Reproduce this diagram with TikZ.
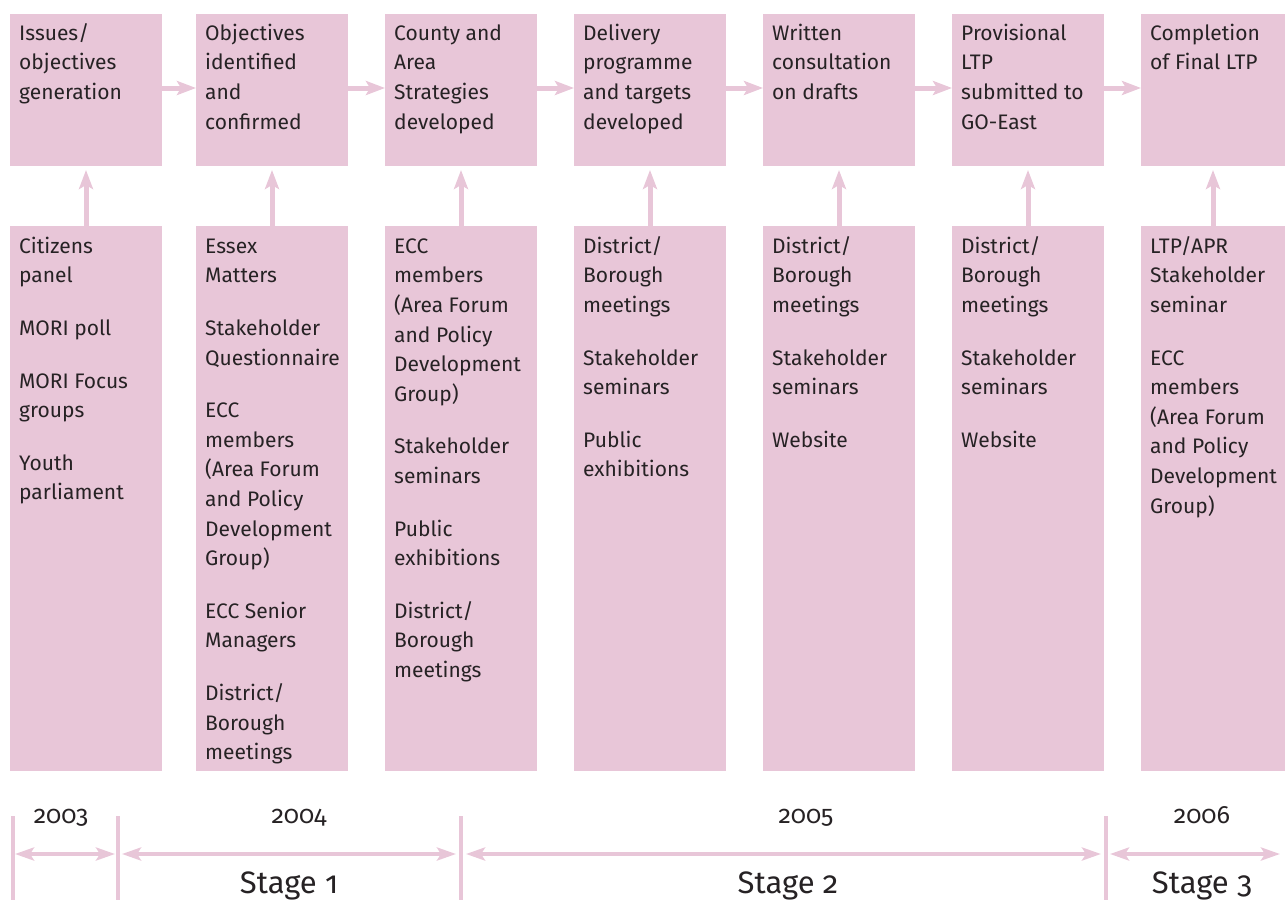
\documentclass[tikz,border=0pt]{standalone}
\usepackage{fontspec}
\setmainfont{Fira Sans}[Numbers=OldStyle]
\usetikzlibrary{arrows.meta}
\definecolor{pinkbox}{RGB}{232,198,216}
\definecolor{txt}{RGB}{38,34,36}
\newcommand{\fl}{\rule{0pt}{17pt}}
\begin{document}
\begin{tikzpicture}[x=1pt,y=-1pt,
  box/.style={fill=pinkbox, draw=none, inner sep=0pt, outer sep=0pt, anchor=north west},
  topbox/.style={box, minimum width=152pt, minimum height=152pt},
  botbox/.style={box, minimum width=152pt, minimum height=545pt},
  lbl/.style={anchor=north west, align=left, inner sep=0pt, text=txt, font=\fontsize{21}{29.6}\selectfont},
  flow/.style={draw=pinkbox, line width=5pt, -{Stealth[length=19pt,width=14pt,inset=4pt]}},
  span/.style={draw=pinkbox, line width=4pt, {Stealth[length=19pt,width=13pt,inset=4pt]}-{Stealth[length=19pt,width=13pt,inset=4pt]}},
  tick/.style={draw=pinkbox, line width=4pt},
  year/.style={text=txt, inner sep=0pt, font=\fontsize{25}{28}\selectfont, anchor=base},
  stage/.style={text=txt, inner sep=0pt, font=\fontsize{31}{36}\selectfont, anchor=base}]
\useasboundingbox (0,0) rectangle (1285,900);

% top boxes
\node[topbox] (t1) at (10,14) {};
\node[topbox] (t2) at (196,14) {};
\node[topbox] (t3) at (385,14) {};
\node[topbox] (t4) at (574,14) {};
\node[topbox] (t5) at (763,14) {};
\node[topbox] (t6) at (952,14) {};
\node[topbox, minimum width=144pt] (t7) at (1141,14) {};

% bottom boxes
\node[botbox] (b1) at (10,226) {};
\node[botbox] (b2) at (196,226) {};
\node[botbox] (b3) at (385,226) {};
\node[botbox] (b4) at (574,226) {};
\node[botbox] (b5) at (763,226) {};
\node[botbox] (b6) at (952,226) {};
\node[botbox, minimum width=144pt] (b7) at (1141,226) {};

% top texts
\node[lbl] (tt1) at (19,23) {\fl Issues/\\objectives\\generation};
\node[lbl] (tt2) at (205,23) {\fl Objectives\\identified\\and\\confirmed};
\node[lbl] (tt3) at (394,23) {\fl County and\\Area\\Strategies\\developed};
\node[lbl] (tt4) at (583,23) {\fl Delivery\\programme\\and targets\\developed};
\node[lbl] (tt5) at (772,23) {\fl Written\\consultation\\on drafts};
\node[lbl] (tt6) at (961,23) {\fl Provisional\\LTP\\submitted to\\GO-East};
\node[lbl] (tt7) at (1150,23) {\fl Completion\\of Final LTP};

% bottom texts
\node[lbl] (bt1) at (19,236) {\fl Citizens\\panel\\[23pt]MORI poll\\[23pt]MORI Focus\\groups\\[23pt]Youth\\parliament};
\node[lbl] (bt2) at (205,236) {\fl Essex\\Matters\\[23pt]Stakeholder\\Questionnaire\\[23pt]ECC\\members\\(Area Forum\\and Policy\\Development\\Group)\\[23pt]ECC Senior\\Managers\\[23pt]District/\\Borough\\meetings};
\node[lbl] (bt3) at (394,236) {\fl ECC\\members\\(Area Forum\\and Policy\\Development\\Group)\\[23pt]Stakeholder\\seminars\\[23pt]Public\\exhibitions\\[23pt]District/\\Borough\\meetings};
\node[lbl] (bt4) at (583,236) {\fl District/\\Borough\\meetings\\[23pt]Stakeholder\\seminars\\[23pt]Public\\exhibitions};
\node[lbl] (bt5) at (772,236) {\fl District/\\Borough\\meetings\\[23pt]Stakeholder\\seminars\\[23pt]Website};
\node[lbl] (bt6) at (961,236) {\fl District/\\Borough\\meetings\\[23pt]Stakeholder\\seminars\\[23pt]Website};
\node[lbl] (bt7) at (1150,236) {\fl LTP/APR\\Stakeholder\\seminar\\[23pt]ECC\\members\\(Area Forum\\and Policy\\Development\\Group)};

% horizontal flow arrows
\foreach \a/\b in {t1/t2,t2/t3,t3/t4,t4/t5,t5/t6,t6/t7}
  \draw[flow] ([yshift=2pt]\a.east) -- ([yshift=2pt]\b.west);

% vertical arrows
\foreach \i in {1,...,7}
  \draw[flow, shorten >=4pt] (b\i.north) -- (t\i.south);

% timeline
\draw[tick] (13,816) -- (13,900);
\draw[tick] (118,816) -- (118,900);
\draw[tick] (461,816) -- (461,900);
\draw[tick] (1106,816) -- (1106,900);

\coordinate (m0) at (13,854);
\coordinate (m1) at (118,854);
\coordinate (m2) at (461,854);
\coordinate (m3) at (1106,854);
\coordinate (m4) at (1282,854);

\draw[span, shorten <=2pt, shorten >=3pt] (m0) -- (m1);
\draw[span, shorten <=4pt, shorten >=5pt] (m1) -- (m2);
\draw[span, shorten <=5pt, shorten >=5pt] (m2) -- (m3);
\draw[span, shorten <=4pt, shorten >=2pt] (m3) -- (m4);

\node[year] (y3) at (61,823) {2003};
\node[year] (y4) at (299,823) {2004};
\node[year] (y5) at (806,823) {2005};
\node[year] (y6) at (1202,823) {2006};

\node[stage] (s1) at (289,893) {Stage 1};
\node[stage] (s2) at (788,893) {Stage 2};
\node[stage] (s3) at (1202,893) {Stage 3};
\end{tikzpicture}
\end{document}
